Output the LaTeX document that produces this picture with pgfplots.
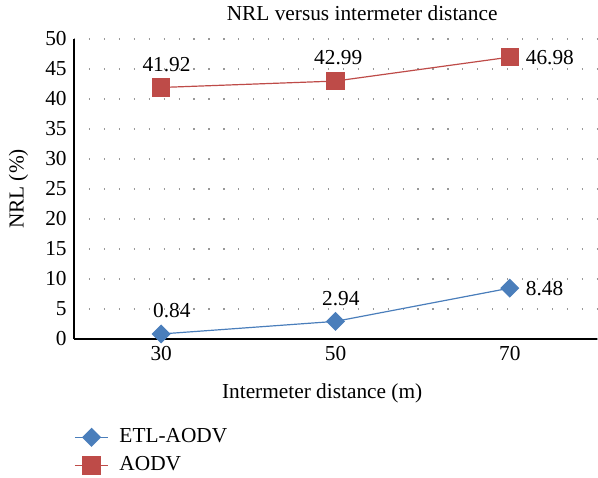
\documentclass[border=0pt]{standalone}
\usepackage{fontspec}
\setmainfont{Liberation Serif}
\usepackage{pgfplots}
\pgfplotsset{compat=1.18}
\definecolor{cblue}{RGB}{74,126,187}
\definecolor{cred}{RGB}{190,75,72}
\begin{document}
\fontsize{16}{19}\selectfont
\begin{tikzpicture}
\useasboundingbox (-55.5pt,-103.5pt) rectangle (393pt,254.25pt);
\begin{axis}[
  scale only axis,
  width=392.25pt, height=225pt,
  at={(0pt,0pt)}, anchor=south west,
  xmin=-0.5, xmax=2.5, ymin=0, ymax=50,
  xtick={0,1,2}, xticklabels={30,50,70},
  ytick={0,5,...,50},
  axis x line=bottom, axis y line=left,
  axis line style={-, line width=1.5pt, black},
  major tick length=0pt,
  ymajorgrids,
  grid style={gray!80, line width=0.9pt, dash pattern=on 0.9pt off 10.3pt},
  tick label style={font=\fontsize{16}{19}\selectfont},
  /pgf/number format/assume math mode=true,
  title={NRL versus intermeter distance},
  title style={font=\fontsize{16}{19}\selectfont, yshift=2pt, xshift=20pt},
  xlabel={Intermeter distance (m)},
  ylabel={NRL (\%)},
  label style={font=\fontsize{16}{19}\selectfont},
  xlabel style={yshift=-6pt, xshift=-10pt},
  ylabel style={yshift=2pt},
  legend style={at={(0,-0.28)}, anchor=north west, draw=none, fill=none,
    font=\fontsize{16}{19}\selectfont, row sep=4pt, inner xsep=0pt,
    nodes={inner xsep=8pt}},
  legend cell align=left,
  legend image code/.code={
    \draw[#1, mark repeat=2, mark phase=2] plot coordinates {(0pt,0pt) (12.5pt,0pt) (25pt,0pt)};},
  nodes near coords,
  point meta=explicit symbolic,
  every node near coord/.append style={font=\fontsize{16}{19}\selectfont, black, anchor=\myanchor, inner sep=1pt, outer sep=11pt, xshift=\mydx pt},
  visualization depends on={value \thisrow{anc} \as \myanchor},
  visualization depends on={value \thisrow{dx} \as \mydx},
  clip=false,
]
\addplot[cblue, line width=0.9pt, mark=square*, mark size=4.6pt, mark options={fill=cblue, draw=cblue, rotate=45}]
  table[meta=lab] {
  x y lab anc dx
  0 0.84 0.84 south 8
  1 2.94 2.94 south 4
  2 8.48 8.48 west 0
};
\addlegendentry{ETL-AODV}
\addplot[cred, line width=0.9pt, mark=square*, mark size=6.5pt, mark options={fill=cred, draw=cred}]
  table[meta=lab] {
  x y lab anc dx
  0 41.92 41.92 south 4
  1 42.99 42.99 south 2
  2 46.98 46.98 west 0
};
\addlegendentry{AODV}
\end{axis}
\end{tikzpicture}
\end{document}
